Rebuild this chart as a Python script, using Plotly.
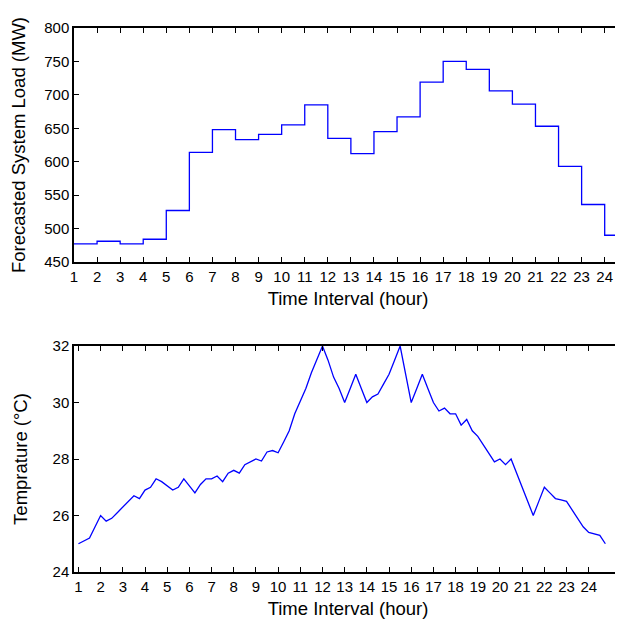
import numpy as np
import plotly.graph_objects as go
from plotly.subplots import make_subplots

# Hourly forecasted system load (MW), hours 1..24
hours = list(range(1, 25))
load_mw = [477, 481, 477, 484, 527, 614, 648, 633, 641, 655, 685, 635,
           612, 645, 667, 719, 750, 738, 706, 686, 653, 593, 536, 490]

# Temperature (°C) in 15-minute steps, hour 1 .. 24.75
temp_c = [25.0, 25.1, 25.2, 25.6, 26.0, 25.8, 25.9, 26.1,
          26.3, 26.5, 26.7, 26.6, 26.9, 27.0, 27.3, 27.2,
          27.05, 26.9, 27.0, 27.3, 27.05, 26.8, 27.1, 27.3,
          27.3, 27.4, 27.2, 27.5, 27.6, 27.5, 27.8, 27.9,
          28.0, 27.93, 28.25, 28.3, 28.22, 28.6, 29.0, 29.6,
          30.05, 30.5, 31.05, 31.5, 32.0, 31.5, 30.9, 30.5,
          30.0, 30.5, 31.0, 30.5, 30.0, 30.2, 30.3, 30.65,
          31.0, 31.5, 32.0, 31.0, 30.0, 30.5, 31.0, 30.5,
          30.0, 29.7, 29.8, 29.6, 29.6, 29.2, 29.4, 29.0,
          28.8, 28.5, 28.2, 27.9, 28.0, 27.8, 28.0, 27.5,
          27.0, 26.5, 26.0, 26.5, 27.0, 26.8, 26.6, 26.55,
          26.5, 26.2, 25.9, 25.6, 25.4, 25.35, 25.3, 25.0]

tick_labels = [str(h) for h in hours]

step = 0.25
t_quarter = 1 + step * np.arange(len(temp_c))
load_quarter = np.repeat(load_mw, 4)

fig = make_subplots(rows=2, cols=1)

fig.add_trace(go.Scatter(x=t_quarter, y=load_quarter, mode="lines",
                         line=dict(color="#0000FF", width=1.3, shape="hv"),
                         showlegend=False), row=1, col=1)
fig.add_trace(go.Scatter(x=t_quarter, y=temp_c, mode="lines",
                         line=dict(color="#0000FF", width=1.3),
                         showlegend=False), row=2, col=1)

tick_font = dict(family="Liberation Sans, Arial, sans-serif", size=15, color="black")
title_font = dict(family="Liberation Sans, Arial, sans-serif", size=18.5, color="black")

axis_common = dict(showline=True, linecolor="black", linewidth=1.5, mirror="ticks",
                   ticks="inside", ticklen=5, tickwidth=1, tickcolor="black",
                   showgrid=False, zeroline=False, tickfont=tick_font,
                   automargin=False)

fig.update_xaxes(**axis_common)
fig.update_yaxes(**axis_common)

fig.update_xaxes(range=[1, 24.75], tickvals=hours, ticktext=tick_labels,
                 title=dict(text="Time Interval (hour)", font=title_font, standoff=8),
                 domain=[0, 1], row=1, col=1)
fig.update_yaxes(range=[450, 800], dtick=50, tick0=450,
                 title=dict(text="Forecasted System Load (MW)", font=title_font, standoff=16),
                 domain=[0.5699, 1.0], row=1, col=1)
fig.update_xaxes(range=[0.8, 25.5], tickvals=hours, ticktext=tick_labels,
                 title=dict(text="Time Interval (hour)", font=title_font, standoff=8),
                 domain=[0, 1], row=2, col=1)
fig.update_yaxes(range=[24, 32], dtick=2, tick0=24,
                 title=dict(text="Temprature (°C)", font=title_font, standoff=20),
                 domain=[0.0, 0.4154], row=2, col=1)

fig.update_layout(width=623, height=630,
                  margin=dict(l=66, r=9, t=20, b=66, autoexpand=False),
                  paper_bgcolor="white", plot_bgcolor="white",
                  font=tick_font)

fig.write_html("out.html")
